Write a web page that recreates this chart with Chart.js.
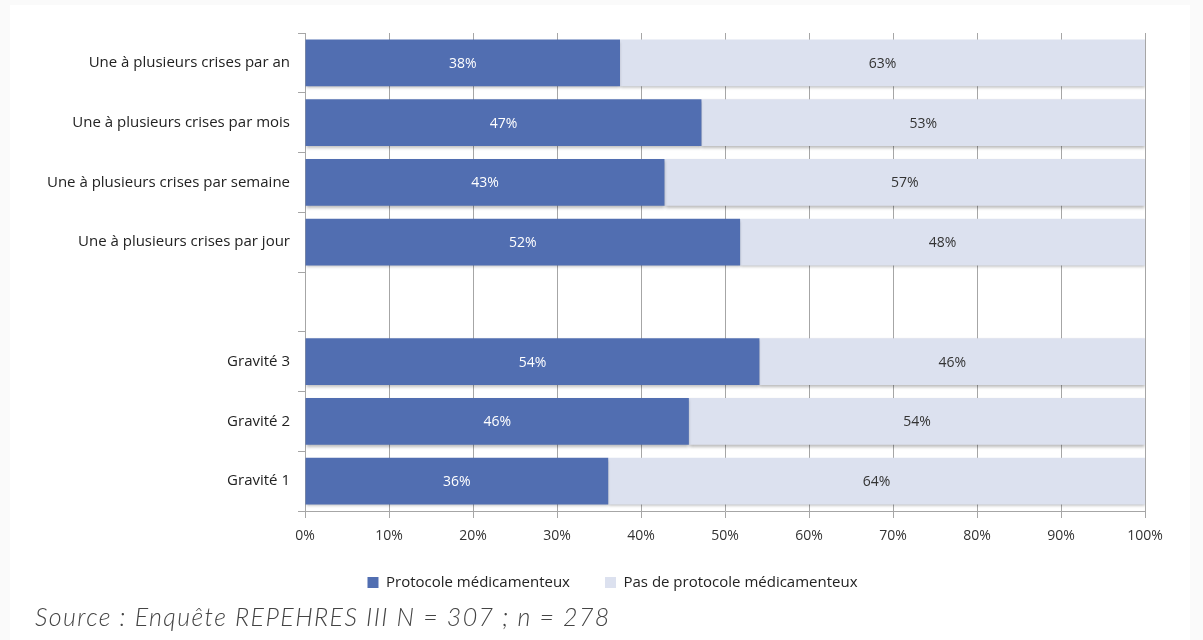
<!DOCTYPE html>
<html>
<head>
<meta charset="utf-8">
<script src="https://cdn.jsdelivr.net/npm/chart.js@4"></script>
<style>
  body { margin: 0; background: #fafafa; font-family: "Open Sans", sans-serif; overflow: hidden; }
  #panel { position: absolute; left: 10px; top: 5px; width: 1180px; height: 635px; background: #fff; }
  #wrap { position: absolute; left: 0; top: 0; width: 1203px; height: 603px; }
  #source { position: absolute; left: 35px; top: 601px; font-family: Lato, sans-serif; font-weight: 300; font-style: italic; font-size: 25px; color: #444; letter-spacing: 1.4px; }
</style>
</head>
<body>
<div id="panel"></div>
<div id="wrap"><canvas id="c" width="1203" height="603"></canvas></div>
<div id="source">Source : Enquête REPEHRES III N = 307 ; n = 278</div>
<script>
var categories = [
  'Une à plusieurs crises par an',
  'Une à plusieurs crises par mois',
  'Une à plusieurs crises par semaine',
  'Une à plusieurs crises par jour',
  '',
  'Gravité 3',
  'Gravité 2',
  'Gravité 1'
];
var protocole = [37.5, 47.2, 42.8, 51.8, null, 54.1, 45.7, 36.1];
var pasProtocole = [62.5, 52.8, 57.2, 48.2, null, 45.9, 54.3, 63.9];
var xTicks = [0, 10, 20, 30, 40, 50, 60, 70, 80, 90, 100];

// soft shadow under the bars
const barShadow = {
  id: 'barShadow',
  beforeDatasetsDraw(chart) {
    const c = chart.ctx;
    c.save();
    c.shadowColor = 'rgba(0,0,0,0.28)';
    c.shadowBlur = 3;
    c.shadowOffsetY = 2;
  },
  afterDatasetsDraw(chart) {
    chart.ctx.restore();
  }
};

// legend sits a bit right of the canvas centre
const legendShift = {
  id: 'legendShift',
  afterLayout(chart) {
    chart.legend.left += 40;
    chart.legend.right += 40;
    chart.legend.top -= 3;
    chart.legend.bottom -= 3;
  }
};

// labels inside the bars
const barLabels = {
  id: 'barLabels',
  afterDatasetsDraw(chart) {
    const ctx = chart.ctx;
    ctx.save();
    ctx.font = '14px "Open Sans"';
    ctx.textAlign = 'center';
    ctx.textBaseline = 'middle';
    chart.data.datasets.forEach((ds, i) => {
      const meta = chart.getDatasetMeta(i);
      meta.data.forEach((bar, j) => {
        if (ds.data[j] == null) return;
        const p = bar.getProps(['x', 'y', 'base']);
        ctx.fillStyle = i === 0 ? '#ffffff' : '#333333';
        ctx.fillText(Math.round(ds.data[j]) + '%', (p.x + p.base) / 2, p.y + 1);
      });
    });
    ctx.restore();
  }
};

const ctx = document.getElementById('c').getContext('2d');
const chart = new Chart(ctx, {
  type: 'bar',
  data: {
    labels: categories,
    datasets: [{
      label: 'Protocole médicamenteux',
      data: protocole,
      backgroundColor: '#516eb1',
      barPercentage: 0.78,
      categoryPercentage: 1
    }, {
      label: 'Pas de protocole médicamenteux',
      data: pasProtocole,
      backgroundColor: '#dce1ef',
      barPercentage: 0.78,
      categoryPercentage: 1
    }]
  },
  options: {
    indexAxis: 'y',
    responsive: false,
    animation: false,
    layout: { padding: { left: 0, right: 58, top: 33, bottom: 0 } },
    scales: {
      x: {
        stacked: true,
        min: 0,
        max: 100,
        afterBuildTicks: (s) => { s.ticks = xTicks.map(v => ({ value: v })); },
        afterFit: (s) => { s.height = 32; },
        ticks: {
          callback: (v) => v + '%',
          color: '#333',
          font: { family: 'Open Sans', size: 14 },
          padding: 10
        },
        grid: { color: '#a6a6a6', tickLength: 7, tickColor: '#a6a6a6' },
        border: { color: '#a6a6a6' }
      },
      y: {
        stacked: true,
        afterFit: (s) => { s.width = 305; },
        ticks: {
          color: '#222',
          font: { family: 'Open Sans', size: 15 },
          padding: 8
        },
        grid: { offset: true, drawOnChartArea: false, tickLength: 7, color: '#a6a6a6' },
        border: { color: '#a6a6a6' }
      }
    },
    plugins: {
      legend: {
        position: 'bottom',
        labels: {
          boxWidth: 11,
          boxHeight: 11,
          color: '#222',
          font: { family: 'Open Sans', size: 15 },
          padding: 35
        }
      },
      tooltip: { enabled: false }
    }
  },
  plugins: [barShadow, legendShift, barLabels]
});
</script>
</body>
</html>
